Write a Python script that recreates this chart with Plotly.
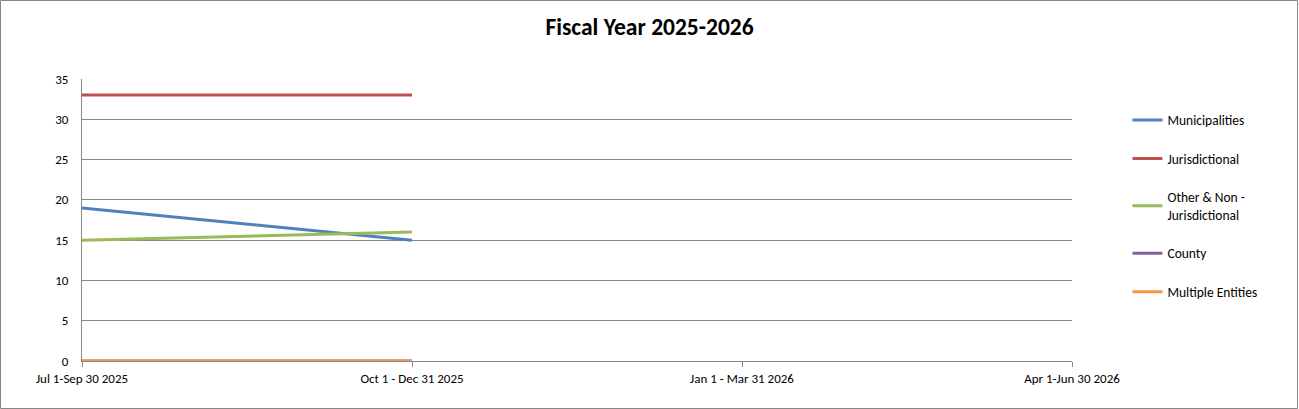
import plotly.graph_objects as go

# quarters of the fiscal year (x categories)
quarters = ["Jul 1-Sep 30 2025", "Oct 1 - Dec 31 2025", "Jan 1 - Mar 31 2026", "Apr 1-Jun 30 2026"]

# series values per quarter (None = not reported yet)
municipalities = [19, 15, None, None]
jurisdictional = [33, 33, None, None]
other_non_jur = [15, 16, None, None]
county = [0, 0, None, None]
multiple_entities = [0, 0, None, None]

series_names = ["Municipalities", "Jurisdictional", "Other & Non -<br>Jurisdictional", "County", "Multiple Entities"]
series_values = [municipalities, jurisdictional, other_non_jur, county, multiple_entities]
series_colors = ["#4F81BD", "#C0504D", "#9BBB59", "#8064A2", "#F79646"]

FONT = "Calibri, Carlito, Lato, 'Liberation Sans', sans-serif"

fig = go.Figure()
for i, (name, vals, col) in enumerate(zip(series_names, series_values, series_colors)):
    fig.add_trace(go.Scatter(
        x=quarters, y=vals, name=name, mode="lines",
        line=dict(color=col, width=3),
        legendgroup=f"g{i}",
        connectgaps=False,
    ))

W, H = 1299, 409
L, R, T, B = 82, 227, 79, 48
pw, ph = W - L - R, H - T - B

fig.update_layout(
    width=W, height=H,
    margin=dict(l=L, r=R, t=T, b=B),
    paper_bgcolor="white", plot_bgcolor="white",
    font=dict(family=FONT, size=13, color="#000000"),
    title=dict(text="<b>Fiscal Year 2025-2026</b>", x=0.5, xanchor="center",
               y=1 - 27 / H, yanchor="middle", font=dict(size=23.5, family=FONT)),
    legend=dict(x=1.056, xanchor="left", y=0.909, yanchor="top",
                tracegroupgap=18, font=dict(size=13.5), itemwidth=30,
                bgcolor="rgba(0,0,0,0)"),
    showlegend=True,
)

fig.update_xaxes(
    type="category", categoryorder="array", categoryarray=quarters,
    range=[0, 3], showgrid=False, showline=True, linecolor="#868686", linewidth=1,
    ticks="outside", ticklen=5, tickcolor="#868686", tickfont=dict(size=13),
    zeroline=False, fixedrange=True,
)
fig.update_yaxes(
    range=[0, 35], dtick=5, showgrid=True, gridcolor="#868686", gridwidth=1,
    showline=True, linecolor="#868686", linewidth=1, zeroline=False,
    ticks="", ticklabelstandoff=10, tickfont=dict(size=13), fixedrange=True,
)

# outer frame of the chart area
fig.add_shape(type="rect", xref="paper", yref="paper",
              x0=-L / pw + 0.5 / pw, x1=(W - L - 1.5) / pw,
              y0=-(B - 0.5) / ph, y1=(H - B - 0.5) / ph,
              line=dict(color="#868686", width=1), fillcolor="rgba(0,0,0,0)", layer="below")

fig.write_html("out.html", config={"displayModeBar": False},
               post_script="document.body.style.margin='0';")
